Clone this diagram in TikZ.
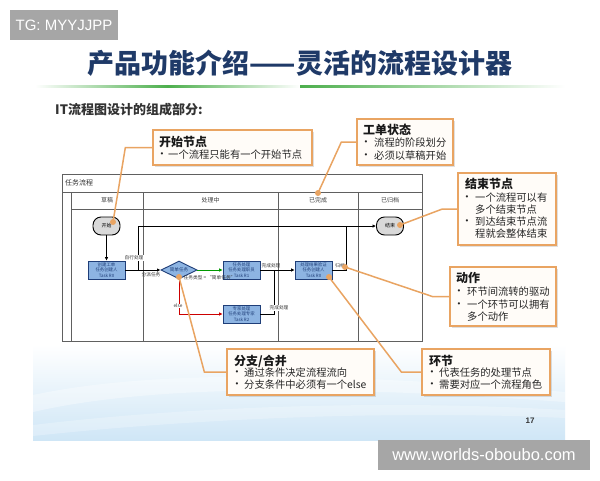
\documentclass[tikz,border=0pt]{standalone}
\usepackage{fontspec}
\setmainfont{Liberation Sans}
\newfontfamily\cjk{Noto Sans CJK SC}
\usetikzlibrary{shapes.geometric,arrows.meta,shadows}
\definecolor{titleblue}{HTML}{1F3A68}
\definecolor{taskfill}{HTML}{8DB4E2}
\definecolor{taskdraw}{HTML}{1F3E78}
\definecolor{callorange}{HTML}{E9A462}
\definecolor{callfill}{HTML}{FFFCF8}
\definecolor{bgblue}{HTML}{CFE6F6}
\definecolor{wmgray}{HTML}{A6A6A6}
\definecolor{gridgray}{HTML}{606060}
\begin{document}
\begin{tikzpicture}[x=1pt,y=-1pt,
  fs/.style={font=\cjk\fontsize{#1}{#1}\selectfont},
  callbox/.style={draw=callorange, line width=1.3pt, fill=callfill, rectangle, inner sep=0pt,
     drop shadow={opacity=0.25, shadow xshift=1.5pt, shadow yshift=-1.5pt}},
  calltitle/.style={anchor=west, inner sep=0pt, font=\cjk\bfseries\fontsize{12}{12}\selectfont, text=black!90},
  callline/.style={anchor=west, inner sep=0pt, font=\cjk\fontsize{10.3}{10.3}\selectfont, text=black!85},
  callbul/.style={anchor=center, inner sep=0pt, font=\fontsize{8}{8}\selectfont, text=black!85},
  leader/.style={draw=callorange, line width=1.5pt},
  dotc/.style={circle, fill=callorange, inner sep=0pt, minimum size=6pt},
  task/.style={rectangle, draw=taskdraw, line width=0.8pt, fill=taskfill, minimum width=37pt, minimum height=18pt,
     inner sep=0pt, align=center, font=\cjk\fontsize{4.4}{5.2}\selectfont, text=taskdraw},
  term/.style={rectangle, rounded corners=8pt, draw=black, line width=0.9pt, fill=black!15, minimum width=27pt,
     minimum height=18pt, inner sep=0pt, font=\cjk\fontsize{5}{5}\selectfont},
  dia/.style={diamond, draw=taskdraw, line width=0.9pt, fill=taskfill, minimum width=36pt, minimum height=18pt,
     aspect=2, inner sep=0pt, font=\cjk\fontsize{4.6}{5}\selectfont, text=taskdraw},
  flow/.style={draw=black, line width=0.8pt},
  arr/.style={-{Latex[length=3.5pt,width=3.5pt]}},
  lab/.style={inner sep=0.5pt, font=\cjk\fontsize{4.7}{5}\selectfont, text=black!80},
  hdr/.style={inner sep=0pt, font=\cjk\fontsize{6}{6}\selectfont, text=black!75}
]
\useasboundingbox (0,0) rectangle (600,480);
\fill[white] (0,0) rectangle (600,480);
% slide background bottom
\shade[top color=white, bottom color=bgblue] (33,345) rectangle (565,440);
\fill[white, opacity=0.35] (33,395) .. controls (150,370) and (330,372) .. (565,392) -- (565,402) .. controls (330,385) and (150,385) .. (33,412) -- cycle;
\fill[white, opacity=0.25] (33,425) .. controls (200,405) and (400,400) .. (565,410) -- (565,418) .. controls (400,410) and (200,418) .. (33,436) -- cycle;

% watermarks
\node[fill=wmgray, minimum width=108pt, minimum height=30pt, inner sep=0pt, text=white,
  font=\fontsize{15}{15}\selectfont] (wm1) at (64,25) {TG: MYYJJPP};
\node[fill=wmgray, minimum width=212pt, minimum height=30pt, inner sep=0pt, text=white,
  font=\fontsize{16.5}{16.5}\selectfont] (wm2) at (484,455) {www.worlds-oboubo.com};

% title
\node[inner sep=0pt, font=\cjk\bfseries\fontsize{27}{27}\selectfont, text=titleblue] (title) at (300,63) {产品功能介绍——灵活的流程设计器};
\shade[left color=white, right color=white, middle color=green!55!black!70] (35,85) rectangle (300,87);
\shade[left color=green!55!black!70, right color=white] (300,85) rectangle (565,87);
\node[anchor=west, inner sep=0pt, font=\cjk\bfseries\fontsize{13}{13}\selectfont, text=black!80] (sub) at (55,110) {IT流程图设计的组成部分:};

% flow table
\draw[gridgray, line width=0.6pt, fill=white] (62,174) rectangle (422,341);
\draw[gridgray, line width=0.6pt] (62,192) -- (422,192);
\draw[gridgray, line width=0.6pt] (71,209) -- (422,209);
\foreach \xx in {71,143,278,358} \draw[gridgray, line width=0.6pt] (\xx,192) -- (\xx,341);
\node[anchor=west, inner sep=0pt, font=\cjk\fontsize{7}{7}\selectfont, text=black!80] (tt) at (65,183) {任务流程};
\node[hdr] (h1) at (107,200) {草稿};
\node[hdr] (h2) at (210.5,200) {处理中};
\node[hdr] (h3) at (318,200) {已完成};
\node[hdr] (h4) at (390,200) {已归档};

% nodes
\node[term] (start) at (106.5,226) {开始};
\node[task] (r0a) at (106.5,270) {创建工单\\任务创建人\\Task R0};
\node[dia] (d) at (179,270) {简单任务};
\node[task] (r1) at (241.5,270) {任务处理\\任务处理职员\\Task R1};
\node[task] (r2) at (241.5,314) {专家处理\\任务处理专家\\Task R2};
\node[task] (r0b) at (313.5,270) {处理结果验证\\任务创建人\\Task R0};
\node[term] (end) at (390,226) {结束};

% connectors
\draw[flow, arr] (start) -- (r0a);
\draw[flow, arr] (r0a) -- (d);
\coordinate (b1) at (138,270);
\draw[flow, arr] (b1) |- (end.west);
\draw[green!60!black, line width=0.8pt, arr] (d) -- (r1);
\draw[red!80!black, line width=0.8pt, arr] (d.south) |- (r2.west);
\draw[flow, arr] (r1) -- (r0b);
\coordinate (m1) at (274,270);
\draw[flow] (r2.east) -| (m1);
\coordinate (g1) at (346,226);
\draw[flow] (r0b.east) -| (g1);

\node[lab, anchor=north] (l1) at (151,272) {分派任务};
\node[lab, fill=white] (l2) at (134,258) {自行处理};
\node[lab, anchor=north west] (l3) at (183,275) {任务类型 = “简单任务”};
\node[lab, fill=white] (l4) at (178,306) {else};
\node[lab, anchor=south] (l5) at (271,269) {完成处理};
\node[lab, fill=white] (l6) at (279,308) {完成处理};
\node[lab, anchor=south] (l7) at (340,269) {归档};

% callouts
\node[callbox, minimum width=159pt, minimum height=35pt] (c1) at (232.5,147.5) {};
\node[calltitle] (c1t) at (159,142) {开始节点};
\node[callbul] at (162,155) {•}; \node[callline] (c1a) at (168,155) {一个流程只能有一个开始节点};

\node[callbox, minimum width=96pt, minimum height=46pt] (c2) at (405,142) {};
\node[calltitle] (c2t) at (363,130) {工单状态};
\node[callbul] at (366,143) {•}; \node[callline] at (374,143) {流程的阶段划分};
\node[callbul] at (366,156) {•}; \node[callline] at (374,156) {必须以草稿开始};

\node[callbox, minimum width=98pt, minimum height=72pt] (c3) at (507,209) {};
\node[calltitle] (c3t) at (465,184) {结束节点};
\node[callbul] at (467,198) {•}; \node[callline] at (475,198) {一个流程可以有};
\node[callline] at (475,210) {多个结束节点};
\node[callbul] at (467,222) {•}; \node[callline] at (475,222) {到达结束节点流};
\node[callline] at (475,234) {程就会整体结束};

\node[callbox, minimum width=106pt, minimum height=59pt] (c4) at (503,296.5) {};
\node[calltitle] (c4t) at (456,278) {动作};
\node[callbul] at (459,292) {•}; \node[callline] at (467,292) {环节间流转的驱动};
\node[callbul] at (459,305) {•}; \node[callline] at (467,305) {一个环节可以拥有};
\node[callline] at (467,317) {多个动作};

\node[callbox, minimum width=147pt, minimum height=46pt] (c5) at (300.5,372) {};
\node[calltitle] (c5t) at (234,361) {分支/合并};
\node[callbul] at (237,373) {•}; \node[callline] at (244,373) {通过条件决定流程流向};
\node[callbul] at (237,385) {•}; \node[callline] at (244,385) {分支条件中必须有一个else};

\node[callbox, minimum width=128pt, minimum height=46pt] (c6) at (486,372) {};
\node[calltitle] (c6t) at (429,361) {环节};
\node[callbul] at (432,373) {•}; \node[callline] at (439,373) {代表任务的处理节点};
\node[callbul] at (432,385) {•}; \node[callline] at (439,385) {需要对应一个流程角色};

% leader lines
\coordinate (p1) at (113,222);
\coordinate (p2) at (318,193);
\coordinate (p3) at (400,225);
\coordinate (p4) at (345,267);
\coordinate (p5) at (179,277);
\coordinate (p6) at (329,277);
\draw[leader] (c1.west) -- ++(-27,0) -- (p1);
\draw[leader] (c2.west) -- ++(-15,0) -- (p2);
\draw[leader] (c3.west) -- ++(-15,0) -- (p3);
\draw[leader] (c4.west) -- ++(-17,0) -- (p4);
\draw[leader] (c5.west) -- ++(-22,0) -- (p5);
\draw[leader] (c6.west) -- ++(-20,0) -- (p6);
\foreach \p in {p1,p2,p3,p4,p5,p6} \node[dotc] at (\p) {};

\node[inner sep=0pt, font=\bfseries\fontsize{8}{8}\selectfont, text=black!80] (pg) at (530,421) {17};
\end{tikzpicture}
\end{document}
